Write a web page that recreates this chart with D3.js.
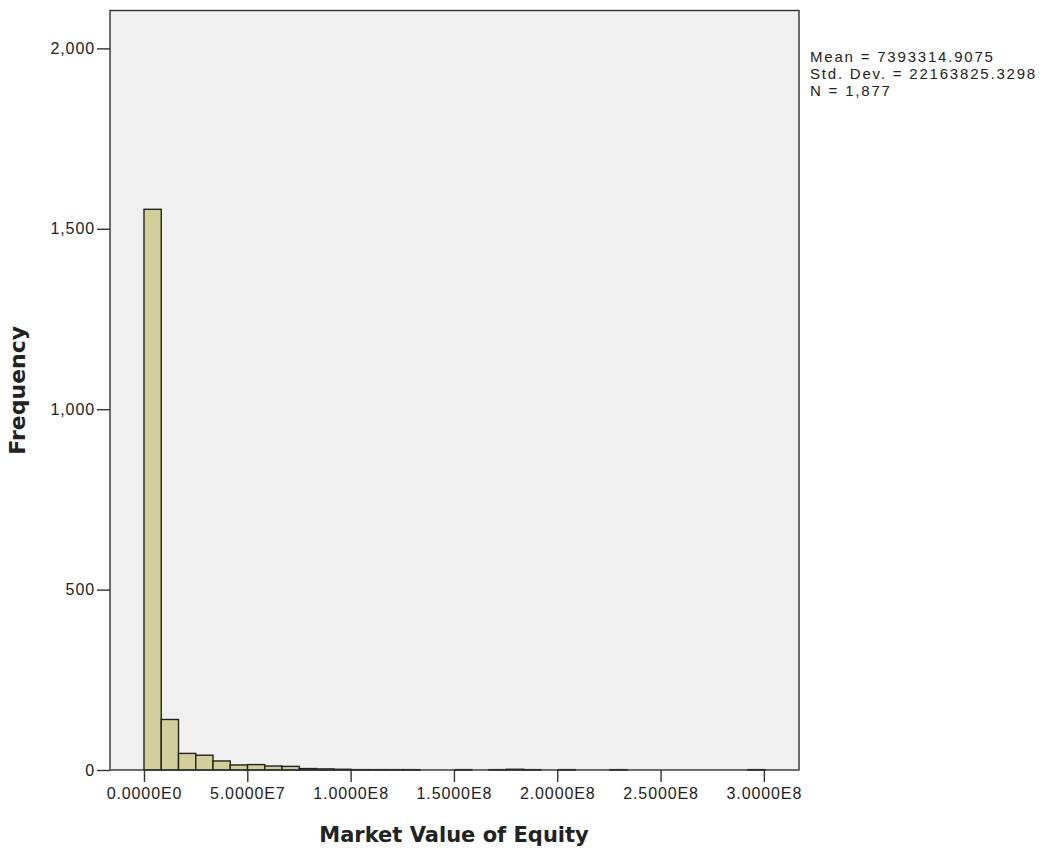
<!DOCTYPE html>
<html>
<head>
<meta charset="utf-8">
<script src="https://cdn.jsdelivr.net/npm/d3@7"></script>
<style>
  body { margin: 0; background: #fff; }
  svg text { font-family: "Liberation Sans", Arial, sans-serif; fill: #222; }
</style>
</head>
<body>
<div id="chart"></div>
<script>
// Histogram data: bins start at 0, each binWidth wide
const binWidth = 8.35e6;
const counts = [1554, 140, 46, 41, 25, 14, 15, 11, 10, 4, 3, 2, 1, 1, 1, 1, 0, 0,
                1, 0, 1, 2, 1, 0, 1, 0, 0, 1, 0, 0, 0, 0, 0, 0, 0, 1];
const xTicks = [0, 5e7, 1e8, 1.5e8, 2e8, 2.5e8, 3e8];
const xTickLabels = ["0.0000E0", "5.0000E7", "1.0000E8", "1.5000E8", "2.0000E8", "2.5000E8", "3.0000E8"];
const yTicks = [0, 500, 1000, 1500, 2000];
const statsLines = ["Mean = 7393314.9075", "Std. Dev. = 22163825.3298", "N = 1,877"];

const width = 1047, height = 852;
const plot = { left: 110, top: 10.5, right: 799, bottom: 770 };

const svg = d3.select("#chart").append("svg")
    .attr("width", width)
    .attr("height", height);

// scales
const x = d3.scaleLinear()
    .domain([-1.645e7, 3.17e8])
    .range([plot.left, plot.right]);
const y = d3.scaleLinear()
    .domain([0, 2105])
    .range([plot.bottom, plot.top]);

// background
svg.append("rect")
    .attr("x", plot.left)
    .attr("y", plot.top)
    .attr("width", plot.right - plot.left)
    .attr("height", plot.bottom - plot.top)
    .attr("fill", "#f0f0f0");

// bars
const bins = counts.map((c, i) => ({ x0: i * binWidth, x1: (i + 1) * binWidth, count: c }));
svg.append("g")
    .selectAll("rect")
    .data(bins.filter(d => d.count > 0))
    .enter()
    .append("rect")
    .attr("x", d => x(d.x0))
    .attr("y", d => y(d.count))
    .attr("width", d => x(d.x1) - x(d.x0))
    .attr("height", d => y(0) - y(d.count))
    .attr("fill", "#d3cf98")
    .attr("stroke", "#222")
    .attr("stroke-width", 1.4);

// frame
svg.append("rect")
    .attr("x", plot.left)
    .attr("y", plot.top)
    .attr("width", plot.right - plot.left)
    .attr("height", plot.bottom - plot.top)
    .attr("fill", "none")
    .attr("stroke", "#333")
    .attr("stroke-width", 1.4);

// y axis
const yAxis = svg.append("g")
    .attr("transform", `translate(${plot.left},0)`)
    .call(d3.axisLeft(y).tickValues(yTicks).tickFormat(d3.format(",")).tickSize(13).tickPadding(2));
yAxis.select(".domain").remove();
yAxis.selectAll("line").attr("stroke", "#333").attr("stroke-width", 1.4);
yAxis.selectAll("text")
    .style("font-size", "16px")
    .style("letter-spacing", "0.9px")
    .attr("fill", "#222");

// x axis
const xAxis = svg.append("g")
    .attr("transform", `translate(0,${plot.bottom})`)
    .call(d3.axisBottom(x).tickValues(xTicks).tickFormat((d, i) => xTickLabels[i]).tickSize(12).tickPadding(6));
xAxis.select(".domain").remove();
xAxis.selectAll("line").attr("stroke", "#333").attr("stroke-width", 1.4);
xAxis.selectAll("text")
    .style("font-size", "16px")
    .style("letter-spacing", "0.9px")
    .attr("fill", "#222");

// axis titles
svg.append("text")
    .attr("transform", `translate(25,${(plot.top + plot.bottom) / 2}) rotate(-90)`)
    .attr("text-anchor", "middle")
    .style("font-family", "'DejaVu Sans', Verdana, sans-serif")
    .style("font-size", "22px")
    .style("font-weight", "bold")
    .attr("fill", "#111")
    .text("Frequency");

svg.append("text")
    .attr("x", 454)
    .attr("y", 842)
    .attr("text-anchor", "middle")
    .style("font-family", "'DejaVu Sans', Verdana, sans-serif")
    .style("font-size", "21px")
    .style("font-weight", "bold")
    .attr("fill", "#111")
    .text("Market Value of Equity");

// stats box
svg.append("g")
    .selectAll("text")
    .data(statsLines)
    .enter()
    .append("text")
    .attr("x", 810)
    .attr("y", (d, i) => 62 + i * 17)
    .style("font-size", "15px")
    .style("letter-spacing", "1.8px")
    .text(d => d);
</script>
</body>
</html>
